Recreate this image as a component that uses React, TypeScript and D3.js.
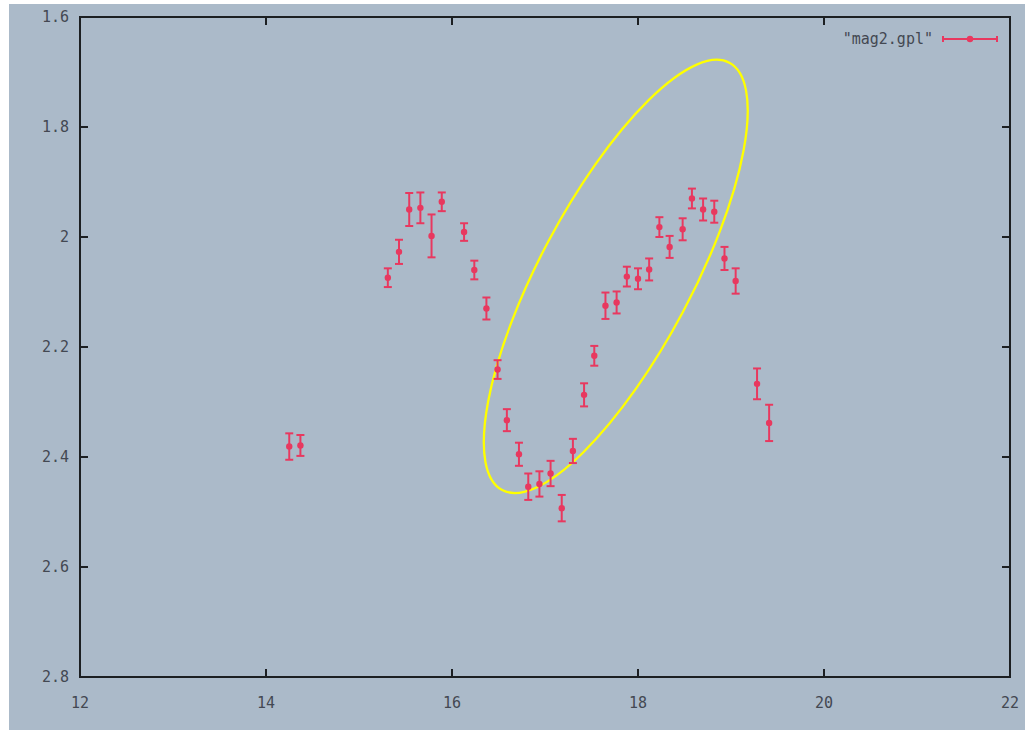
import React from "react";
import * as d3 from "d3";

const xValues = [14.25, 14.37, 15.31, 15.43, 15.54, 15.66, 15.78, 15.89, 16.13, 16.24, 16.37, 16.49, 16.59, 16.72, 16.82, 16.94, 17.06, 17.18, 17.3, 17.42, 17.53, 17.65, 17.77, 17.88, 18.0, 18.12, 18.23, 18.34, 18.48, 18.58, 18.7, 18.82, 18.93, 19.05, 19.28, 19.41];
const yValues = [2.381, 2.379, 2.074, 2.027, 1.95, 1.947, 1.998, 1.936, 1.991, 2.06, 2.13, 2.241, 2.333, 2.395, 2.454, 2.449, 2.43, 2.493, 2.389, 2.287, 2.216, 2.125, 2.119, 2.072, 2.076, 2.059, 1.982, 2.018, 1.986, 1.93, 1.95, 1.954, 2.039, 2.08, 2.267, 2.338];
const yErrors = [0.024, 0.019, 0.017, 0.022, 0.03, 0.028, 0.039, 0.017, 0.016, 0.017, 0.02, 0.017, 0.02, 0.021, 0.024, 0.023, 0.023, 0.024, 0.022, 0.021, 0.018, 0.024, 0.02, 0.018, 0.019, 0.02, 0.018, 0.02, 0.02, 0.018, 0.02, 0.02, 0.021, 0.023, 0.028, 0.033];
const xTicks = [12, 14, 16, 18, 20, 22];
const yTicks = [1.6, 1.8, 2.0, 2.2, 2.4, 2.6, 2.8];
const yTickLabels = ["1.6", "1.8", "2", "2.2", "2.4", "2.6", "2.8"];
const seriesName = '"mag2.gpl"';
// annotation ellipse (data-space center)
const ellipseCenter = [17.761, 2.0716];

export default function App() {
  const W = 1025, H = 734;
  const left = 80, right = 1010, top = 17, bottom = 677;
  const x = d3.scaleLinear().domain([12, 22]).range([left, right]);
  const y = d3.scaleLinear().domain([1.6, 2.8]).range([top, bottom]);
  const red = "#e8395f";
  const axisColor = "#1c1f22";
  const labelColor = "#434852";
  const font = "'DejaVu Sans Mono', monospace";
  const tl = 8;
  const cap = 4;
  const ecx = x(ellipseCenter[0]);
  const ecy = y(ellipseCenter[1]);
  return (
    <svg width={W} height={H} style={{ position: "absolute", left: 0, top: 0 }}>
      <defs>
        <filter id="soft" x="-20%" y="-20%" width="140%" height="140%">
          <feGaussianBlur stdDeviation="0.45" />
        </filter>
      </defs>
      <rect x={0} y={0} width={W} height={H} fill="#ffffff" />
      <rect x={9} y={4} width={W - 9} height={726} fill="#abbac9" />
      {/* ellipse */}
      <ellipse
        cx={ecx}
        cy={ecy}
        rx={242}
        ry={76}
        fill="none"
        stroke="#ffff00"
        strokeWidth={2.3}
        transform={`rotate(-62 ${ecx} ${ecy})`}
      />
      {/* data */}
      <g stroke={red} strokeWidth={2} fill={red} filter="url(#soft)">
        {xValues.map((xv, i) => {
          const px = x(xv);
          const y0 = y(yValues[i] - yErrors[i]);
          const y1 = y(yValues[i] + yErrors[i]);
          return (
            <g key={i}>
              <line x1={px} x2={px} y1={y0} y2={y1} />
              <line x1={px - cap} x2={px + cap} y1={y0} y2={y0} />
              <line x1={px - cap} x2={px + cap} y1={y1} y2={y1} />
              <circle cx={px} cy={y(yValues[i])} r={3.2} stroke="none" />
            </g>
          );
        })}
      </g>
      {/* frame */}
      <rect x={left} y={top} width={right - left} height={bottom - top} fill="none" stroke={axisColor} strokeWidth={2} />
      {xTicks.map((t) => (
        <g key={"x" + t}>
          <line x1={x(t)} x2={x(t)} y1={bottom} y2={bottom - tl} stroke={axisColor} strokeWidth={2} />
          <line x1={x(t)} x2={x(t)} y1={top} y2={top + tl} stroke={axisColor} strokeWidth={2} />
          <text x={x(t)} y={bottom + 31} textAnchor="middle" fontFamily={font} fontSize={15} fill={labelColor}>{t}</text>
        </g>
      ))}
      {yTicks.map((t, i) => (
        <g key={"y" + t}>
          <line x1={left} x2={left + tl} y1={y(t)} y2={y(t)} stroke={axisColor} strokeWidth={2} />
          <line x1={right} x2={right - tl} y1={y(t)} y2={y(t)} stroke={axisColor} strokeWidth={2} />
          <text x={69} y={y(t)} dy="0.35em" textAnchor="end" fontFamily={font} fontSize={15} fill={labelColor}>{yTickLabels[i]}</text>
        </g>
      ))}
      {/* legend */}
      <text x={933} y={39} dy="0.35em" textAnchor="end" fontFamily={font} fontSize={15} fill={labelColor}>{seriesName}</text>
      <g stroke={red} strokeWidth={2} filter="url(#soft)">
        <line x1={943} x2={997} y1={39} y2={39} />
        <line x1={943} x2={943} y1={36} y2={42} />
        <line x1={997} x2={997} y1={36} y2={42} />
        <circle cx={970} cy={39} r={3.2} fill={red} stroke="none" />
      </g>
    </svg>
  );
}
